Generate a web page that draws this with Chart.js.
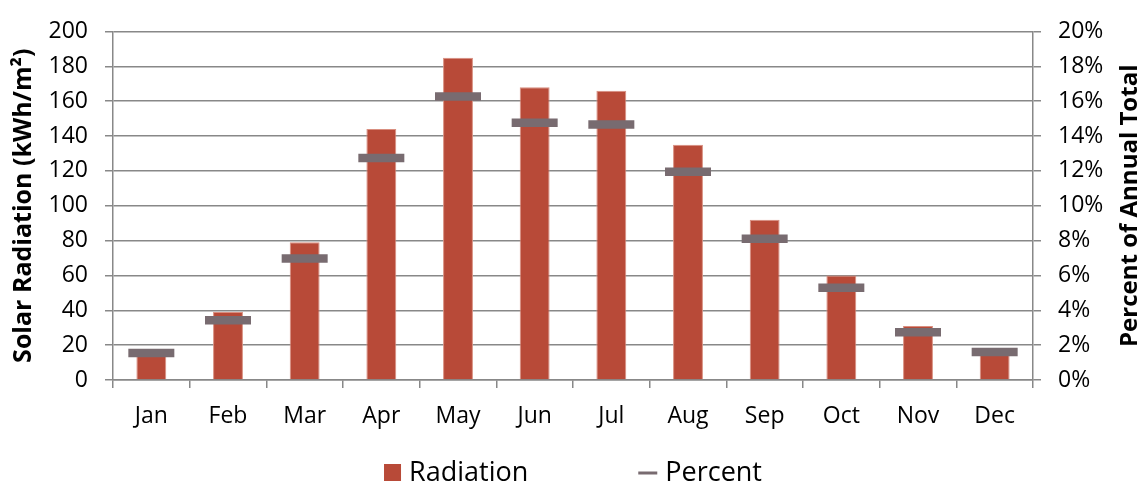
<!DOCTYPE html>
<html>
<head>
<meta charset="utf-8">
<title>Solar Radiation</title>
<script src="https://cdn.jsdelivr.net/npm/chart.js@4/dist/chart.umd.min.js"></script>
<style>
    html, body { margin: 0; padding: 0; background: #fff; }
    canvas { display: block; }
</style>
</head>
<body>
<canvas id="solarChart" width="1140" height="484"></canvas>
<script>
// Monthly solar radiation and each month's share of the yearly total
const months = ['Jan', 'Feb', 'Mar', 'Apr', 'May', 'Jun', 'Jul', 'Aug', 'Sep', 'Oct', 'Nov', 'Dec'];
const radiation = [17, 39, 79, 144, 185, 168, 166, 135, 92, 60, 31, 18];
const percent = [1.55, 3.43, 6.97, 12.74, 16.27, 14.77, 14.66, 11.95, 8.10, 5.29, 2.74, 1.61];
const radiationTicks = [0, 20, 40, 60, 80, 100, 120, 140, 160, 180, 200];
const percentTicks = [0, 2, 4, 6, 8, 10, 12, 14, 16, 18, 20];

const barColor = '#b84a38';
const markColor = '#786b70';
const gridColor = '#888888';

Chart.defaults.font.family = '"Open Sans", sans-serif';
Chart.defaults.font.size = 23;
Chart.defaults.color = '#000';

// fixed axis width; the top/bottom label overflow is kept out of the layout
function fixWidth(width) {
    return function(scale) {
        scale.width = width;
        scale.paddingTop = 0;
        scale.paddingBottom = 0;
    };
}

// Right axis title reads bottom-to-top, so it is drawn here
const rightTitle = {
    id: 'rightTitle',
    afterDraw(chart) {
        const ctx = chart.ctx;
        const area = chart.chartArea;
        ctx.save();
        ctx.translate(1137, (area.top + area.bottom) / 2);
        ctx.rotate(-Math.PI / 2);
        ctx.font = 'bold 24px "Open Sans", sans-serif';
        ctx.fillStyle = '#000';
        ctx.textAlign = 'center';
        ctx.textBaseline = 'alphabetic';
        ctx.fillText('Percent of Annual Total', 0, 0);
        ctx.restore();
    }
};

// Legend row under the month labels
const bottomLegend = {
    id: 'bottomLegend',
    afterDraw(chart) {
        const ctx = chart.ctx;
        const area = chart.chartArea;
        const names = chart.data.datasets.map(ds => ds.label);
        ctx.save();
        ctx.font = '27px "Open Sans", sans-serif';
        const w1 = ctx.measureText(names[0]).width;
        const w2 = ctx.measureText(names[1]).width;
        const gap = 110;
        const total = 17 + 8 + w1 + gap + 19 + 8 + w2;
        let x = (area.left + area.right) / 2 - total / 2;
        const baseY = 481;

        ctx.fillStyle = barColor;
        ctx.fillRect(x, 464, 17, 17);
        ctx.fillStyle = '#000';
        ctx.textBaseline = 'alphabetic';
        ctx.fillText(names[0], x + 25, baseY);

        x += 25 + w1 + gap;
        ctx.strokeStyle = markColor;
        ctx.lineWidth = 3;
        ctx.beginPath();
        ctx.moveTo(x, 473);
        ctx.lineTo(x + 19, 473);
        ctx.stroke();
        ctx.fillText(names[1], x + 27, baseY);
        ctx.restore();
    }
};

const ctx = document.getElementById('solarChart');
new Chart(ctx, {
    type: 'bar',
    data: {
        labels: months,
        datasets: [{
            label: 'Radiation',
            data: radiation,
            yAxisID: 'y',
            backgroundColor: barColor,
            borderColor: '#d98f80',
            borderWidth: 1,
            barPercentage: 0.39,
            categoryPercentage: 1,
            order: 2
        }, {
            label: 'Percent',
            type: 'line',
            data: percent,
            yAxisID: 'y2',
            showLine: false,
            pointStyle: 'line',
            pointRadius: 23,
            pointHoverRadius: 23,
            pointBorderWidth: 8.5,
            pointBorderColor: markColor,
            pointBackgroundColor: markColor,
            order: 1
        }]
    },
    options: {
        responsive: false,
        animation: false,
        layout: {
            padding: { top: 26, bottom: 50, left: 0, right: 0 }
        },
        plugins: {
            legend: { display: false },
            tooltip: { enabled: false }
        },
        scales: {
            x: {
                grid: {
                    offset: true,
                    drawOnChartArea: false,
                    tickLength: 8,
                    color: gridColor,
                    lineWidth: 1.5
                },
                border: { color: gridColor, width: 1.5 },
                ticks: { padding: 15 },
                afterFit(scale) { scale.height = 54; }
            },
            y: {
                position: 'left',
                min: 0,
                max: 200,
                afterBuildTicks(scale) {
                    scale.ticks = radiationTicks.map(v => ({ value: v }));
                },
                grid: {
                    tickLength: 8,
                    color: gridColor,
                    lineWidth: 1.5
                },
                border: { color: gridColor, width: 1.5 },
                ticks: { padding: 17 },
                title: {
                    display: true,
                    text: 'Solar Radiation (kWh/m²)',
                    font: { weight: 'bold', size: 25 },
                    padding: { top: 9, bottom: 0 }
                },
                afterFit: fixWidth(113)
            },
            y2: {
                position: 'right',
                min: 0,
                max: 20,
                afterBuildTicks(scale) {
                    scale.ticks = percentTicks.map(v => ({ value: v }));
                },
                grid: {
                    drawOnChartArea: false,
                    tickLength: 8,
                    color: gridColor,
                    lineWidth: 1.5
                },
                border: { color: gridColor, width: 1.5 },
                ticks: {
                    padding: 17,
                    callback: v => v + '%'
                },
                afterFit: fixWidth(107)
            }
        }
    },
    plugins: [rightTitle, bottomLegend]
});
</script>
</body>
</html>
